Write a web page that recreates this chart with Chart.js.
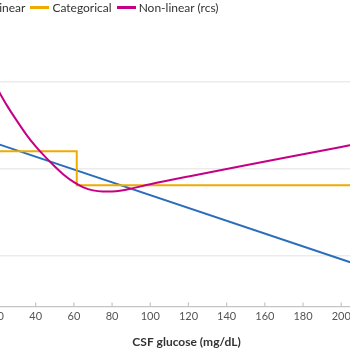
<!DOCTYPE html>
<html>
<head>
<meta charset="utf-8">
<script src="https://cdn.jsdelivr.net/npm/chart.js@4"></script>
<style>
    html, body { margin: 0; padding: 0; width: 350px; height: 350px; overflow: hidden; background: #fff; }
    #wrap { position: absolute; left: -30px; top: 0; width: 430px; height: 350px; }
    #legend { position: absolute; left: -29px; top: 0; height: 15px; display: flex; align-items: center;
        font: 12px Lato, "Open Sans", sans-serif; color: #333; white-space: nowrap; }
    #legend .item { display: flex; align-items: center; margin-right: 5px; }
    #legend .swatch { width: 19px; height: 2.5px; margin-right: 3px; }
</style>
</head>
<body>
<div id="wrap"><canvas id="chart"></canvas></div>
<div id="legend"></div>
<script>
    const linearX = [20, 218];
    const linearY = [2.29, 0.83];

    const categoricalX = [20, 61.5, 61.5, 218];
    const categoricalY = [2.206, 2.206, 1.814, 1.814];

    const rcsX = [20, 25, 30, 35, 40, 45, 50, 55, 60, 65, 70, 75, 80, 85, 90, 100, 120, 150, 200, 218];
    const rcsY = [2.92, 2.73, 2.56, 2.4, 2.26, 2.14, 2.03, 1.93, 1.85, 1.79, 1.755, 1.742, 1.742, 1.753,
        1.775, 1.825, 1.915, 2.044, 2.255, 2.335];

    const xTicks = [20, 40, 60, 80, 100, 120, 140, 160, 180, 200];
    const yGrid = [1, 2, 3];

    const toPoints = (xs, ys) => xs.map((x, i) => ({x: x, y: ys[i]}));

    // small upward tick marks on the x axis
    const innerTicks = {
        id: 'innerTicks',
        afterDraw(chart) {
            let scale = chart.scales.x, ctx = chart.ctx, bottom = chart.chartArea.bottom;
            ctx.save();
            ctx.strokeStyle = '#c4c4c4';
            ctx.lineWidth = 1.2;
            for (const t of scale.ticks) {
                let px = scale.getPixelForValue(t.value);
                ctx.beginPath();
                ctx.moveTo(px, bottom);
                ctx.lineTo(px, bottom - 4);
                ctx.stroke();
            }
            ctx.restore();
        }
    };

    let chart = new Chart(document.getElementById('chart'), {
        type: 'line',
        data: {
            datasets: [
                {
                    label: 'Linear',
                    data: toPoints(linearX, linearY),
                    borderColor: '#2a6ebb',
                    borderWidth: 2,
                    tension: 0,
                    order: 2
                },
                {
                    label: 'Categorical',
                    data: toPoints(categoricalX, categoricalY),
                    borderColor: '#f0ab00',
                    borderWidth: 2,
                    tension: 0,
                    order: 1
                },
                {
                    label: 'Non-linear (rcs)',
                    data: toPoints(rcsX, rcsY),
                    borderColor: '#c50084',
                    borderWidth: 2,
                    cubicInterpolationMode: 'monotone',
                    order: 0
                }
            ]
        },
        options: {
            responsive: true,
            maintainAspectRatio: false,
            animation: false,
            events: [],
            elements: { point: { radius: 0 } },
            layout: { padding: { left: 27.5, right: 24.4, top: 30, bottom: 1 } },
            plugins: { legend: { display: false }, tooltip: { enabled: false } },
            scales: {
                x: {
                    type: 'linear',
                    min: 20,
                    max: 218,
                    afterBuildTicks: axis => { axis.ticks = xTicks.map(v => ({value: v})); },
                    grid: { display: false, drawTicks: false },
                    border: { color: '#c4c4c4', width: 1.2 },
                    ticks: { padding: 3, color: '#555', font: { family: 'Lato', size: 11 } },
                    title: {
                        display: true,
                        text: 'CSF glucose (mg/dL)',
                        color: '#333',
                        font: { family: 'Lato', size: 12, weight: 'bold' },
                        padding: { top: 9, bottom: 0 }
                    }
                },
                y: {
                    min: 0.42,
                    max: 3.6,
                    afterBuildTicks: axis => { axis.ticks = yGrid.map(v => ({value: v})); },
                    grid: { color: '#ececec', lineWidth: 1.5, drawTicks: false },
                    border: { display: false },
                    ticks: { display: false }
                }
            }
        },
        plugins: [innerTicks]
    });

    let legend = document.getElementById('legend');
    for (const ds of chart.data.datasets) {
        let item = document.createElement('span');
        item.className = 'item';
        item.innerHTML = '<span class="swatch" style="background:' + ds.borderColor + '"></span>' + ds.label;
        legend.appendChild(item);
    }
</script>
</body>
</html>
